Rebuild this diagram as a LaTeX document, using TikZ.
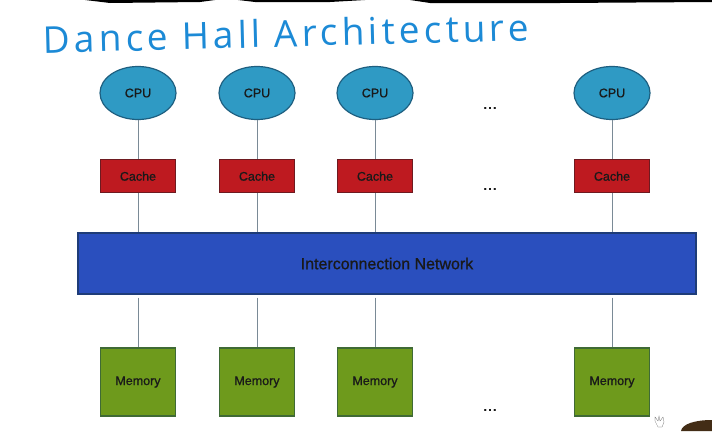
\documentclass[tikz,border=0pt]{standalone}
\usepackage{fontspec}
\setmainfont{Liberation Sans}
\newfontfamily\handfont[LetterSpace=11]{Open Sans}
\newfontfamily\boxfont[FakeBold=0.8]{Liberation Sans}
\usetikzlibrary{shapes.geometric,positioning}
\definecolor{penblue}{HTML}{1C8AD6}
\definecolor{cpufill}{HTML}{2F9AC4}
\definecolor{cpuline}{HTML}{1E5F80}
\definecolor{cachefill}{HTML}{BE1A20}
\definecolor{cacheline}{HTML}{6E1A20}
\definecolor{netfill}{HTML}{2A4FBE}
\definecolor{netline}{HTML}{1E3C78}
\definecolor{memfill}{HTML}{6E9A1C}
\definecolor{memline}{HTML}{3F6A35}
\definecolor{wireline}{HTML}{7A8A96}

\begin{document}
\begin{tikzpicture}[x=1pt, y=-1pt, semithick, node distance=39pt]
\tikzstyle{every node}=[text=black!90, font=\boxfont\fontsize{12.5}{14}\selectfont]
\tikzstyle{cpu}=[ellipse, fill=cpufill, draw=cpuline, line width=1.2pt, minimum width=76pt, minimum height=53pt, inner sep=0pt]
\tikzstyle{cache}=[rectangle, fill=cachefill, draw=cacheline, line width=1.2pt, minimum width=75pt, minimum height=33pt, inner sep=0pt]
\tikzstyle{net}=[rectangle, fill=netfill, draw=netline, line width=1.2pt, minimum width=618pt, minimum height=61pt, inner sep=0pt, font=\boxfont\fontsize{16}{18}\selectfont]
\tikzstyle{mem}=[rectangle, fill=memfill, draw=memline, line width=1.2pt, minimum width=75pt, minimum height=68pt, inner sep=0pt]
\tikzstyle{wire}=[draw=wireline, line width=1pt]
\tikzstyle{dots}=[font=\boxfont\fontsize{17}{17}\selectfont, inner sep=0pt]
\useasboundingbox (0,0) rectangle (712,431);
\fill[white] (0,0) rectangle (712,431);
% pen strokes cut off at the top
\fill[black] (85,0) -- (215,0) -- (200,2) -- (110,3) -- cycle;
\fill[black] (238,0) -- (365,0) -- (330,2) -- (255,2) -- cycle;
\fill[black] (410,0) -- (712,0) -- (712,2) -- (560,3) -- (430,3) -- cycle;
% title
\node[text=penblue, font=\handfont\fontsize{37}{39}\selectfont, rotate=1.5, inner sep=0pt] (title) at (286,33) {Dance Hall Architecture};
% first row
\node[cpu] (A) at (138,93) {CPU};
\node[cpu] (B) at (257,93) {CPU};
\node[cpu] (C) at (375,93) {CPU};
\node[cpu] (D) at (612,93) {CPU};
\node[cache] (CA) [below=39pt of A] {Cache};
\node[cache] (CB) [below=39pt of B] {Cache};
\node[cache] (CC) [below=39pt of C] {Cache};
\node[cache] (CD) [below=39pt of D] {Cache};
\node[net] (N) at (387,263.5) {Interconnection Network};
\node[mem] (MA) at (138,382) {Memory};
\node[mem] (MB) at (257,382) {Memory};
\node[mem] (MC) at (375,382) {Memory};
\node[mem] (MD) at (612,382) {Memory};
\node[dots] (dotsA) at (490,108) {...};
\node[dots] (dotsB) at (490,189) {...};
\node[dots] (dotsC) at (490,410) {...};
\path[wire]
(A) edge (CA)
(B) edge (CB)
(C) edge (CC)
(D) edge (CD)
(CA) edge (CA |- N.north)
(CB) edge (CB |- N.north)
(CC) edge (CC |- N.north)
(CD) edge (CD |- N.north)
(MA |- N.south) edge[shorten <=3pt] (MA)
(MB |- N.south) edge[shorten <=3pt] (MB)
(MC |- N.south) edge[shorten <=3pt] (MC)
(MD |- N.south) edge[shorten <=3pt] (MD);
% hand cursor and smudge in the corner
\draw[black!70, very thin] (655,421) -- (655,417) -- (658,421) -- (659,416) -- (660,421) -- (663,417) -- (664,422) -- (662,427) -- (658,427) -- cycle;
\fill[black!65!brown] (681,431) .. controls (682,424) and (695,420) .. (712,420) -- (712,431) -- cycle;
\end{tikzpicture}
\end{document}
